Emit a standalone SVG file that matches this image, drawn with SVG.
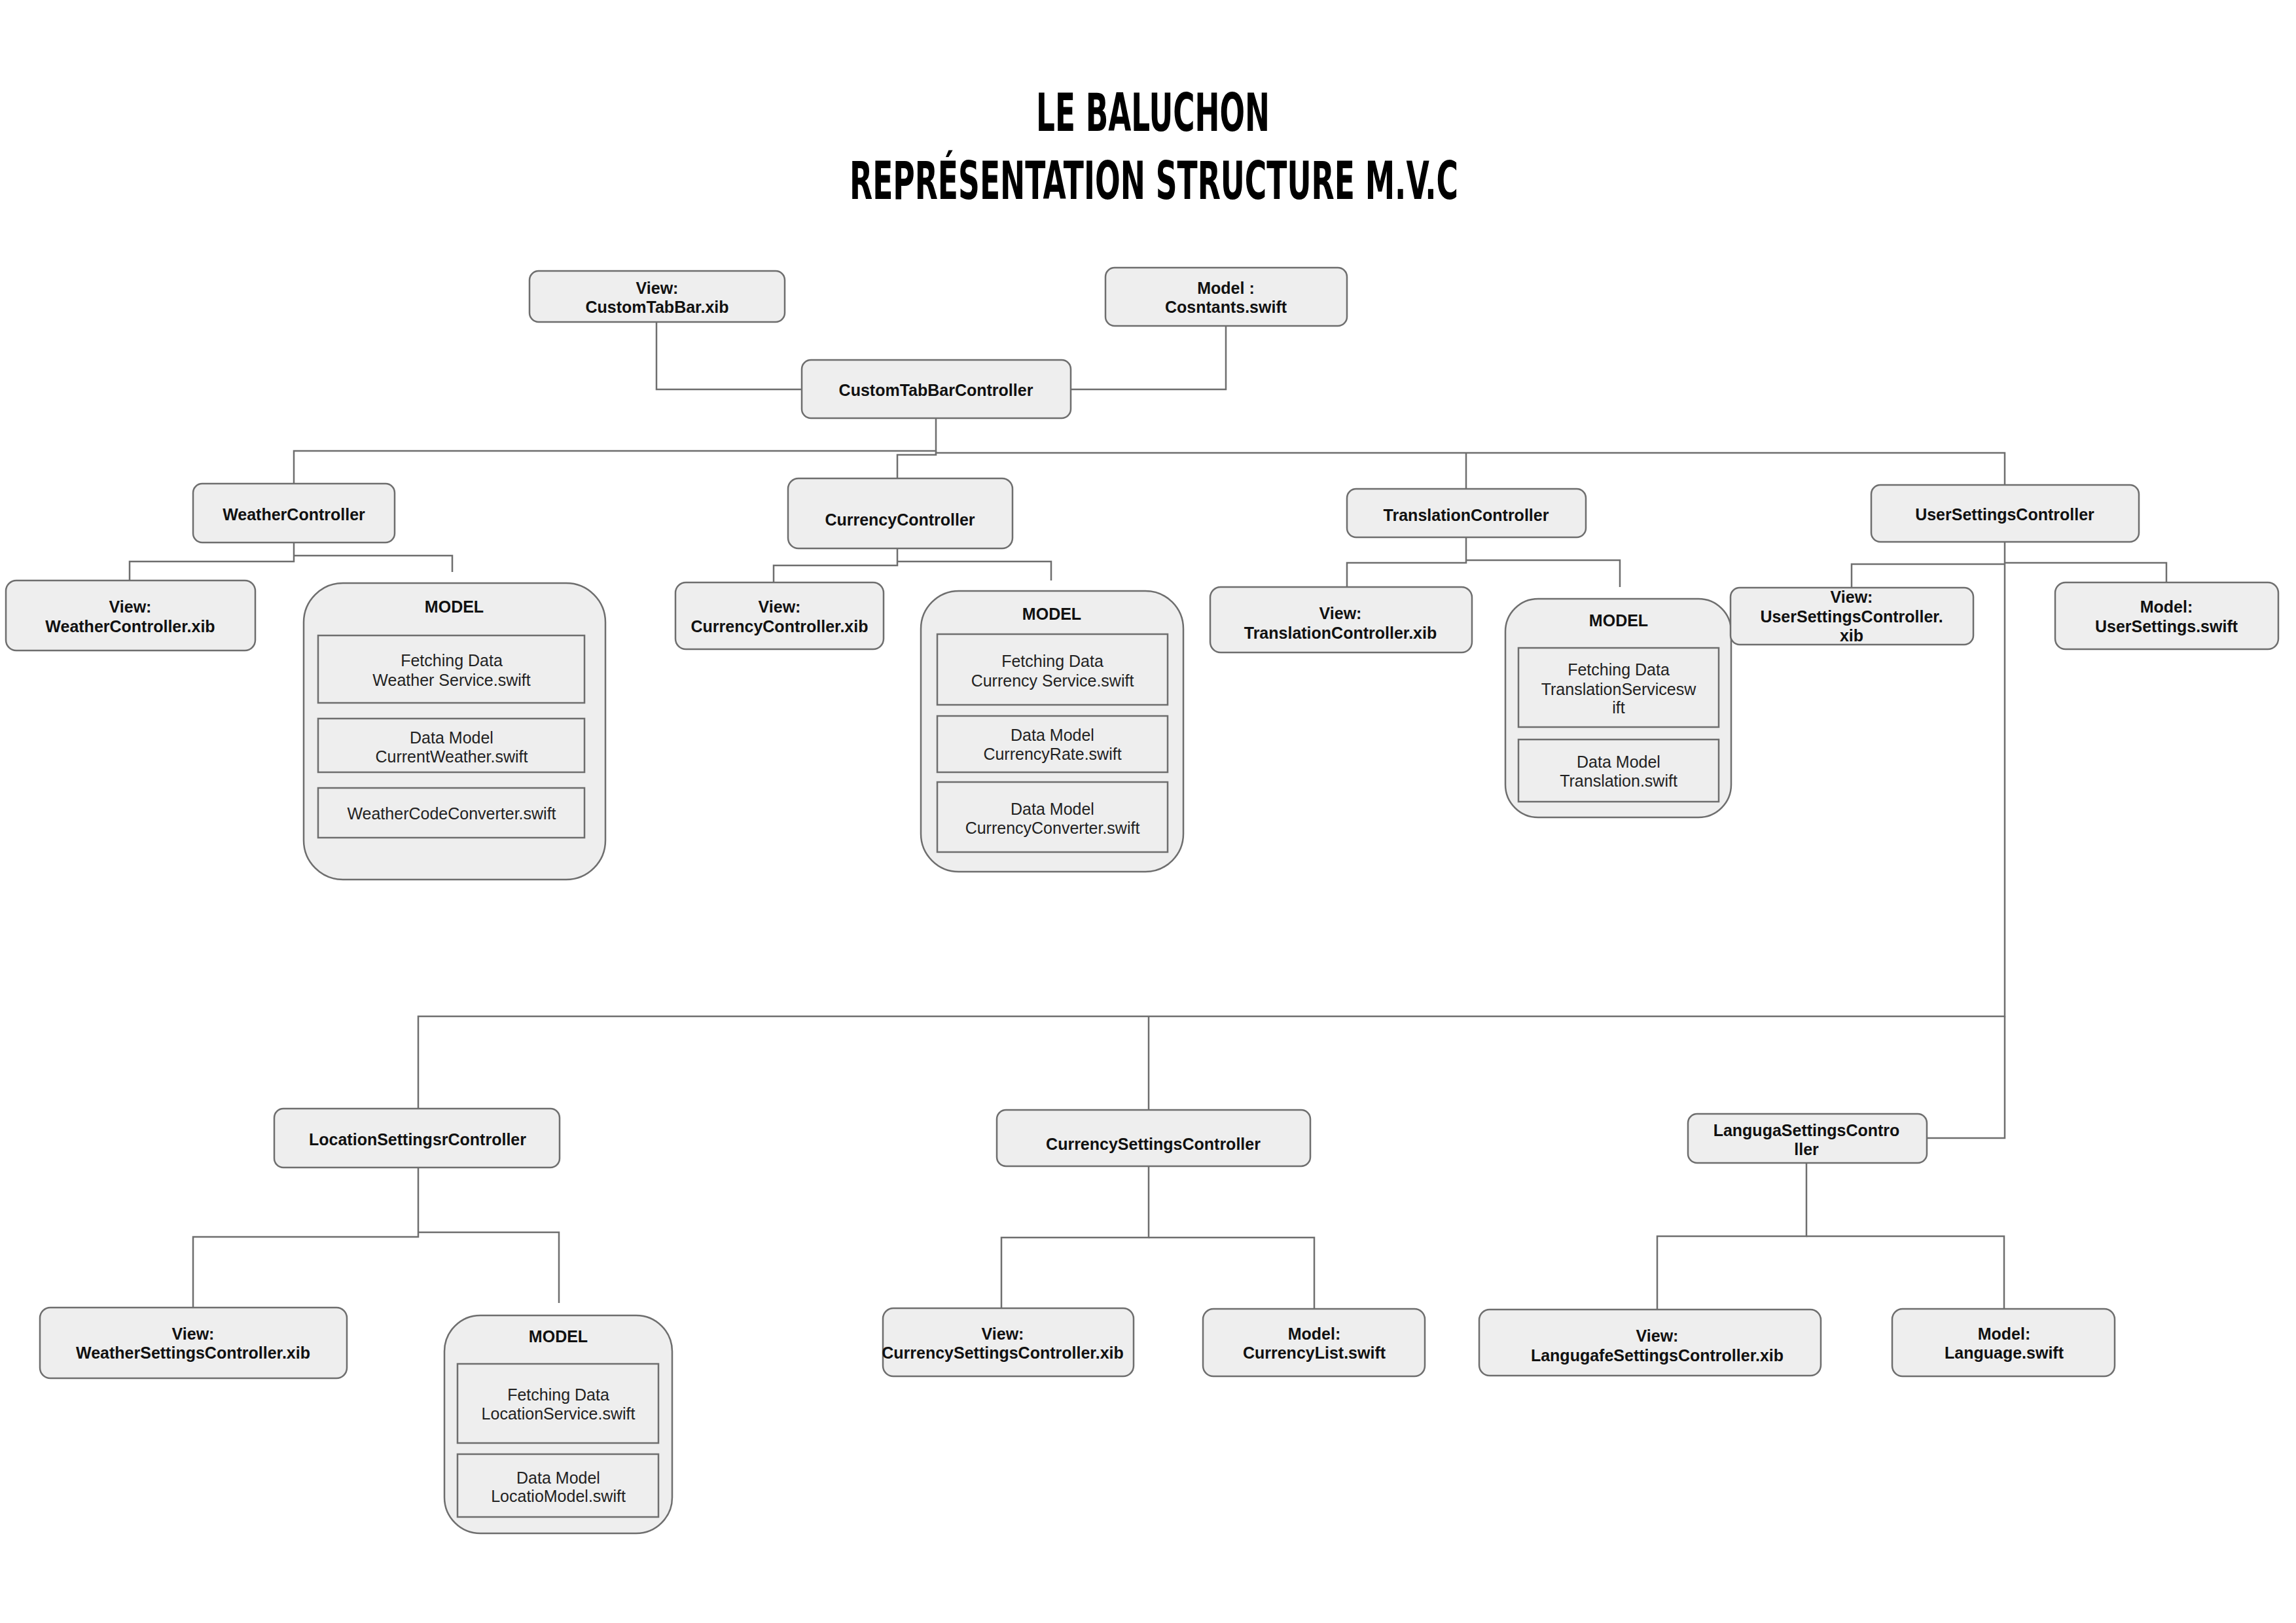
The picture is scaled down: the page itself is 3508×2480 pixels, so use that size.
<svg xmlns="http://www.w3.org/2000/svg" width="3508" height="2480" viewBox="0 0 3508 2480">
<style>
.bg{fill:#ffffff}
.box{fill:#eeeeee;stroke:#6e6e6e;stroke-width:2.5}
.inner{fill:#eeeeee;stroke:#6e6e6e;stroke-width:2.5}
.con{fill:none;stroke:#6e6e6e;stroke-width:2.5}
.t{font-family:"Liberation Sans",Arial,sans-serif;font-size:25px;font-weight:bold;fill:#111111;text-anchor:middle}
.r{font-family:"Liberation Sans",Arial,sans-serif;font-size:25px;fill:#222222;text-anchor:middle}
.title{font-family:"DejaVu Sans Condensed","DejaVu Sans",sans-serif;font-stretch:condensed;font-weight:bold;font-size:80px;fill:#000000}
</style>
<rect class="bg" x="0" y="0" width="3508" height="2480"/>
<g id="title">
<text class="title" x="1583" y="200" textLength="357" lengthAdjust="spacingAndGlyphs">LE BALUCHON</text>
<text class="title" x="1298" y="304" textLength="930" lengthAdjust="spacingAndGlyphs">REPRÉSENTATION STRUCTURE M.V.C</text>
</g>
<g id="connectors">
<path class="con" d="M1003 492 V595 H1225"/>
<path class="con" d="M1873 498 V595 H1636"/>
<path class="con" d="M1430 639 V689 H449 V739"/>
<path class="con" d="M1430 689 V692 H3063 V741"/>
<path class="con" d="M2240 692 V747"/>
<path class="con" d="M1430 692 V695 H1371 V731"/>
<path class="con" d="M449 829 V858 H198 V887"/>
<path class="con" d="M449 849 H691 V874"/>
<path class="con" d="M1371 838 V864 H1182 V890"/>
<path class="con" d="M1371 858 H1606 V887"/>
<path class="con" d="M2240 821 V860 H2058 V897"/>
<path class="con" d="M2240 856 H2475 V897"/>
<path class="con" d="M3063 828 V1553 H639 V1694"/>
<path class="con" d="M3063 862 H2829 V898"/>
<path class="con" d="M3063 860 H3310 V890"/>
<path class="con" d="M1755 1553 V1696"/>
<path class="con" d="M3063 1553 V1739 H2944"/>
<path class="con" d="M639 1784 V1890 H295 V1998"/>
<path class="con" d="M639 1883 H854 V1991"/>
<path class="con" d="M1755 1782 V1891 H1530 V1999"/>
<path class="con" d="M1755 1891 H2008 V2000"/>
<path class="con" d="M2760 1777 V1889 H2532 V2001"/>
<path class="con" d="M2760 1889 H3062 V2000"/>
</g>
<g id="view-customtabbar">
<rect class="box" x="809" y="414" width="390" height="78" rx="14"/>
<text class="t" x="1004" y="449">View:</text>
<text class="t" x="1004" y="478">CustomTabBar.xib</text>
</g>
<g id="model-constants">
<rect class="box" x="1689" y="409" width="369" height="89" rx="14"/>
<text class="t" x="1873" y="449">Model :</text>
<text class="t" x="1873" y="478">Cosntants.swift</text>
</g>
<g id="customtabbarcontroller">
<rect class="box" x="1225" y="550" width="411" height="89" rx="14"/>
<text class="t" x="1430" y="605">CustomTabBarController</text>
</g>
<g id="weathercontroller">
<rect class="box" x="295" y="739" width="308" height="90" rx="14"/>
<text class="t" x="449" y="795">WeatherController</text>
</g>
<g id="currencycontroller">
<rect class="box" x="1204" y="731" width="343" height="107" rx="16"/>
<text class="t" x="1375" y="803">CurrencyController</text>
</g>
<g id="translationcontroller">
<rect class="box" x="2058" y="747" width="365" height="74" rx="14"/>
<text class="t" x="2240" y="796">TranslationController</text>
</g>
<g id="usersettingscontroller">
<rect class="box" x="2859" y="741" width="409" height="87" rx="14"/>
<text class="t" x="3063" y="795">UserSettingsController</text>
</g>
<g id="view-weathercontroller">
<rect class="box" x="9" y="887" width="381" height="107" rx="16"/>
<text class="t" x="199" y="936">View:</text>
<text class="t" x="199" y="966">WeatherController.xib</text>
</g>
<g id="model-weather">
<rect class="box" x="464" y="891" width="461" height="453" rx="60"/>
<text class="t" x="694" y="936">MODEL</text>
<rect class="inner" x="486" y="971" width="407" height="103"/>
<text class="r" x="690" y="1018">Fetching Data</text>
<text class="r" x="690" y="1048">Weather Service.swift</text>
<rect class="inner" x="486" y="1098" width="407" height="82"/>
<text class="r" x="690" y="1136">Data Model</text>
<text class="r" x="690" y="1165">CurrentWeather.swift</text>
<rect class="inner" x="486" y="1204" width="407" height="76"/>
<text class="r" x="690" y="1252">WeatherCodeConverter.swift</text>
</g>
<g id="view-currencycontroller">
<rect class="box" x="1032" y="890" width="318" height="102" rx="16"/>
<text class="t" x="1191" y="936">View:</text>
<text class="t" x="1191" y="966">CurrencyController.xib</text>
</g>
<g id="model-currency">
<rect class="box" x="1407" y="903" width="401" height="429" rx="58"/>
<text class="t" x="1607" y="947">MODEL</text>
<rect class="inner" x="1432" y="969" width="352" height="108"/>
<text class="r" x="1608" y="1019">Fetching Data</text>
<text class="r" x="1608" y="1049">Currency Service.swift</text>
<rect class="inner" x="1432" y="1094" width="352" height="86"/>
<text class="r" x="1608" y="1132">Data Model</text>
<text class="r" x="1608" y="1161">CurrencyRate.swift</text>
<rect class="inner" x="1432" y="1195" width="352" height="107"/>
<text class="r" x="1608" y="1245">Data Model</text>
<text class="r" x="1608" y="1274">CurrencyConverter.swift</text>
</g>
<g id="view-translationcontroller">
<rect class="box" x="1849" y="897" width="400" height="100" rx="16"/>
<text class="t" x="2048" y="946">View:</text>
<text class="t" x="2048" y="976">TranslationController.xib</text>
</g>
<g id="model-translation">
<rect class="box" x="2300" y="915" width="345" height="334" rx="50"/>
<text class="t" x="2473" y="957">MODEL</text>
<rect class="inner" x="2320" y="990" width="306" height="121"/>
<text class="r" x="2473" y="1032">Fetching Data</text>
<text class="r" x="2473" y="1062">TranslationServicesw</text>
<text class="r" x="2473" y="1090">ift</text>
<rect class="inner" x="2320" y="1130" width="306" height="95"/>
<text class="r" x="2473" y="1173">Data Model</text>
<text class="r" x="2473" y="1202">Translation.swift</text>
</g>
<g id="view-usersettings">
<rect class="box" x="2644" y="898" width="371" height="87" rx="14"/>
<text class="t" x="2829" y="921">View:</text>
<text class="t" x="2829" y="951">UserSettingsController.</text>
<text class="t" x="2829" y="980">xib</text>
</g>
<g id="model-usersettings">
<rect class="box" x="3140" y="890" width="341" height="102" rx="16"/>
<text class="t" x="3310" y="936">Model:</text>
<text class="t" x="3310" y="966">UserSettings.swift</text>
</g>
<g id="locationsettingscontroller">
<rect class="box" x="419" y="1694" width="436" height="90" rx="14"/>
<text class="t" x="638" y="1750">LocationSettingsrController</text>
</g>
<g id="currencysettingscontroller">
<rect class="box" x="1523" y="1696" width="479" height="86" rx="14"/>
<text class="t" x="1762" y="1757">CurrencySettingsController</text>
</g>
<g id="langugasettingscontroller">
<rect class="box" x="2579" y="1702" width="365" height="75" rx="14"/>
<text class="t" x="2760" y="1736">LangugaSettingsContro</text>
<text class="t" x="2760" y="1765">ller</text>
</g>
<g id="view-weathersettings">
<rect class="box" x="61" y="1998" width="469" height="108" rx="16"/>
<text class="t" x="295" y="2047">View:</text>
<text class="t" x="295" y="2076">WeatherSettingsController.xib</text>
</g>
<g id="model-location">
<rect class="box" x="679" y="2010" width="348" height="333" rx="55"/>
<text class="t" x="853" y="2051">MODEL</text>
<rect class="inner" x="699" y="2084" width="307" height="121"/>
<text class="r" x="853" y="2140">Fetching Data</text>
<text class="r" x="853" y="2169">LocationService.swift</text>
<rect class="inner" x="699" y="2222" width="307" height="96"/>
<text class="r" x="853" y="2267">Data Model</text>
<text class="r" x="853" y="2295">LocatioModel.swift</text>
</g>
<g id="view-currencysettings">
<rect class="box" x="1349" y="1999" width="383" height="104" rx="16"/>
<text class="t" x="1532" y="2047">View:</text>
<text class="t" x="1532" y="2076">CurrencySettingsController.xib</text>
</g>
<g id="model-currencylist">
<rect class="box" x="1838" y="2000" width="339" height="103" rx="16"/>
<text class="t" x="2008" y="2047">Model:</text>
<text class="t" x="2008" y="2076">CurrencyList.swift</text>
</g>
<g id="view-langugasettings">
<rect class="box" x="2260" y="2001" width="522" height="101" rx="16"/>
<text class="t" x="2532" y="2050">View:</text>
<text class="t" x="2532" y="2080">LangugafeSettingsController.xib</text>
</g>
<g id="model-language">
<rect class="box" x="2891" y="2000" width="340" height="103" rx="16"/>
<text class="t" x="3062" y="2047">Model:</text>
<text class="t" x="3062" y="2076">Language.swift</text>
</g>
</svg>
